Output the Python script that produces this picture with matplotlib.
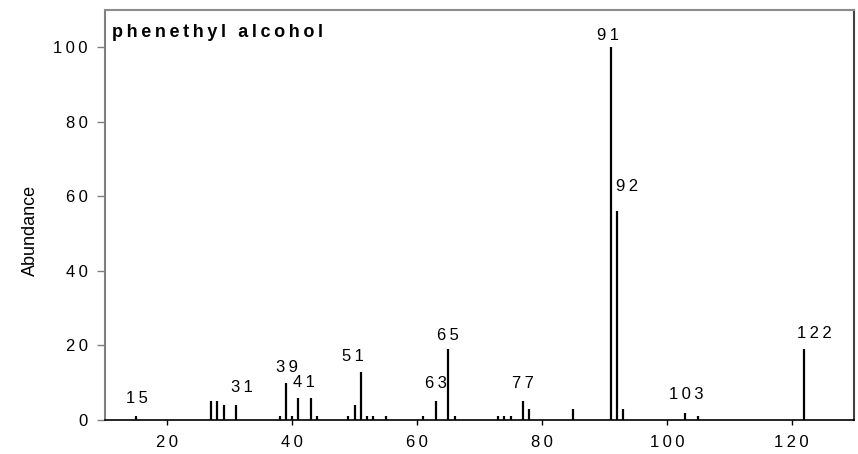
import matplotlib
matplotlib.use("Agg")
import matplotlib.pyplot as plt
from matplotlib.ticker import FuncFormatter

# Mass spectrum of phenethyl alcohol: m/z and relative abundance
mz = [15, 27, 28, 29, 31, 38, 39, 40, 41, 43, 44, 49, 50, 51, 52, 53, 55,
      61, 63, 65, 66, 73, 74, 75, 77, 78, 85, 91, 92, 93, 103, 105, 122]
abundance = [1, 5, 5, 4, 4, 1, 10, 1, 6, 6, 1, 1, 4, 13, 1, 1, 1,
             1, 5, 19, 1, 1, 1, 1, 5, 3, 3, 100, 56, 3, 2, 1, 19]

labelled_peaks = [15, 31, 39, 41, 51, 63, 65, 77, 91, 92, 103, 122]
# label offsets from the top of each peak (pixels)
label_dx = [1, 6, 1, 5, -8, 0, 0, 0, -3, 10, 1, 10]
label_dy = [18, 18, 15, 15, 15, 18, 14, 18, 12, 25, 18, 16]

x_ticks = [20, 40, 60, 80, 100, 120]
y_ticks = [0, 20, 40, 60, 80, 100]
title = "phenethyl alcohol"
y_label = "Abundance"

FONT = ["Liberation Sans", "DejaVu Sans"]
THIN = "\u2009"


def spaced(s, sep=THIN):
    return sep.join(s)


plt.rcParams["font.family"] = FONT

fig = plt.figure(figsize=(8.58, 4.54), dpi=100)
ax = fig.add_axes([105 / 858, 34 / 454, 749 / 858, 410 / 454])

ax.vlines(mz, 0, abundance, color="black", lw=1.6)

height = dict(zip(mz, abundance))
for m, dx, dy in zip(labelled_peaks, label_dx, label_dy):
    ax.annotate(spaced(str(m)), xy=(m, height[m]), xytext=(dx, dy),
                textcoords="offset pixels", ha="center", va="center",
                fontsize=12, color="black")

ax.set_xlim(10, 130)
ax.set_ylim(0, 110)
ax.set_xticks(x_ticks)
ax.set_yticks(y_ticks)
fmt = FuncFormatter(lambda v, p: spaced(str(int(round(v)))))
ax.xaxis.set_major_formatter(fmt)
ax.yaxis.set_major_formatter(fmt)
ax.tick_params(axis="x", direction="out", length=3.6, width=1.0,
               color="black", pad=7, labelsize=12)
ax.tick_params(axis="y", direction="out", length=5.8, width=1.0,
               color="#7f7f7f", pad=6.5, labelsize=12)

ax.spines["left"].set_color("#7f7f7f")
ax.spines["left"].set_linewidth(1.5)
ax.spines["top"].set_color("#8c8c8c")
ax.spines["top"].set_linewidth(1.5)
ax.spines["right"].set_color("#404040")
ax.spines["right"].set_linewidth(1.5)
ax.spines["bottom"].set_color("black")
ax.spines["bottom"].set_linewidth(1.2)

ax.text(0.009, 0.946, spaced(title, THIN), transform=ax.transAxes,
        ha="left", va="center", fontsize=13, fontweight="bold")

fig.text(30 / 858, 1 - 230 / 454, y_label, rotation=90, ha="center",
         va="center", fontsize=13)

fig.savefig("out.png", dpi=100)
